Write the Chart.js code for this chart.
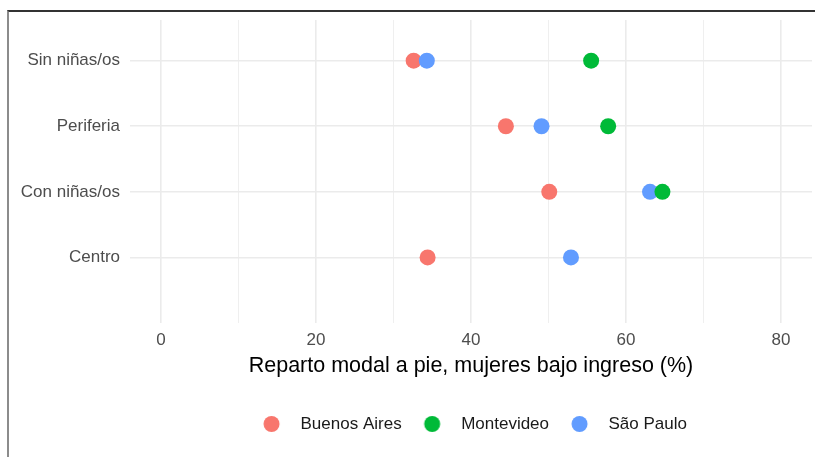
<!DOCTYPE html>
<html>
<head>
<meta charset="utf-8">
<script src="https://cdn.jsdelivr.net/npm/chart.js@4"></script>
<style>
  html, body { margin: 0; padding: 0; background: #fff; overflow: hidden; }
  #frame {
    position: absolute; left: 7px; top: 10px; width: 806px; height: 445px;
    border-left: 2px solid #8c8c8c; border-top: 2px solid #333;
  }
  #wrap { position: absolute; left: 0; top: 0; width: 806px; height: 445px; }
</style>
</head>
<body>
<div id="frame"><div id="wrap"><canvas id="dotChart"></canvas></div></div>
<script>
// Categories from bottom (y = 1) to top (y = 4)
const categories = ["Centro", "Con niñas/os", "Periferia", "Sin niñas/os"];
const cities = ["Buenos Aires", "Montevideo", "São Paulo"];
const cityColors = ["#F8766D", "#00BA38", "#619CFF"];

// Walking share (%), same order as categories; null = no data
const buenosAires = [34.4, 50.1, 44.5, 32.6];
const montevideo = [null, 64.7, 57.7, 55.5];
const saoPaulo = [52.9, 63.1, 49.1, 34.3];

const xTicks = [0, 10, 20, 30, 40, 50, 60, 70, 80];

function toPoints(values) {
  return values
    .map((v, i) => ({ x: v, y: i + 1 }))
    .filter((p) => p.x !== null);
}

// Legend marker: a small canvas with the dot at its left, so the gap
// between dot and text matches the ggplot legend.
function legendDot(color) {
  const c = document.createElement("canvas");
  c.width = 30;
  c.height = 18;
  const g = c.getContext("2d");
  g.fillStyle = color;
  g.beginPath();
  g.arc(9.5, 9, 8, 0, Math.PI * 2);
  g.fill();
  return c;
}
const legendDots = cityColors.map(legendDot);

Chart.defaults.font.family = "'Liberation Sans', Arial, sans-serif";

const gridColor = "#ebebeb";
const axisText = "#4d4d4d";

// ggplot centres the legend a little right of the plot centre; nudge it.
const legendNudge = {
  id: "legendNudge",
  afterLayout(chart) {
    if (!chart.legend) return;
    chart.legend.left += 3.5;
    chart.legend.right += 3.5;
  },
};

const ctx = document.getElementById("dotChart").getContext("2d");
new Chart(ctx, {
  type: "scatter",
  data: {
    datasets: [
      { label: cities[0], data: toPoints(buenosAires), backgroundColor: cityColors[0], order: 2 },
      { label: cities[1], data: toPoints(montevideo), backgroundColor: cityColors[1], order: 0 },
      { label: cities[2], data: toPoints(saoPaulo), backgroundColor: cityColors[2], order: 1 },
    ],
  },
  options: {
    responsive: true,
    maintainAspectRatio: false,
    animation: false,
    layout: {
      autoPadding: false,
      padding: { top: 8, right: 3, bottom: 14.5, left: 0 },
    },
    elements: {
      point: { radius: 8, hoverRadius: 8, borderWidth: 0, hoverBorderWidth: 0 },
    },
    plugins: {
      tooltip: { enabled: false },
      legend: {
        position: "bottom",
        fullSize: false,
        labels: {
          usePointStyle: true,
          pointStyleWidth: 30,
          boxHeight: 17,
          padding: 21,
          color: "#1a1a1a",
          font: { size: 17 },
          generateLabels: (chart) =>
            chart.data.datasets.map((ds, i) => ({
              text: ds.label,
              pointStyle: legendDots[i],
              fillStyle: ds.backgroundColor,
              strokeStyle: ds.backgroundColor,
              lineWidth: 0,
              hidden: false,
              fontColor: "#1a1a1a",
              datasetIndex: i,
            })),
        },
      },
    },
    scales: {
      x: {
        type: "linear",
        min: -4,
        max: 84,
        afterBuildTicks: (s) => { s.ticks = xTicks.map((v) => ({ value: v })); },
        afterFit: (s) => { s.height = 71.5; },
        border: { display: false },
        grid: {
          color: gridColor,
          lineWidth: (c) => (c.tick && c.tick.value % 20 === 0 ? 1.6 : 0.8),
          drawTicks: false,
        },
        ticks: {
          padding: 7,
          color: axisText,
          font: { size: 17 },
          callback: (v) => (v % 20 === 0 ? String(v) : ""),
        },
        title: {
          display: true,
          text: "Reparto modal a pie, mujeres bajo ingreso (%)",
          color: "#000",
          font: { size: 21.5 },
          padding: { top: 0, bottom: 15.6 },
        },
      },
      y: {
        type: "linear",
        min: 0,
        max: 4.62,
        afterBuildTicks: (s) => { s.ticks = categories.map((c, i) => ({ value: i + 1 })); },
        afterFit: (s) => {
          s.width = 121;
          // labels sit well inside the range, no overhang padding needed
          s.paddingTop = 0;
          s.paddingBottom = 0;
        },
        border: { display: false },
        grid: { color: gridColor, lineWidth: 1.6, drawTicks: false },
        ticks: {
          padding: 10,
          color: axisText,
          font: { size: 17 },
          callback: (v) => categories[v - 1],
        },
      },
    },
  },
  plugins: [legendNudge],
});
</script>
</body>
</html>
